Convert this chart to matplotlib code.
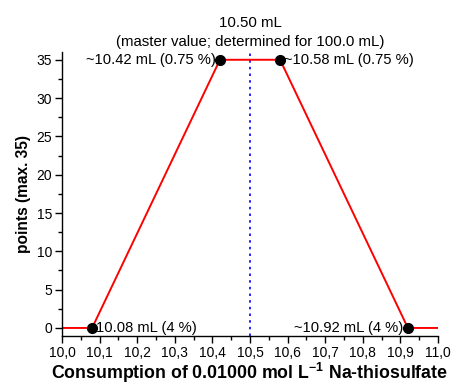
import matplotlib
matplotlib.use("Agg")
import matplotlib.pyplot as plt
from matplotlib.ticker import MultipleLocator, FuncFormatter

plt.rcParams['font.family'] = ['Liberation Sans', 'DejaVu Sans']
plt.rcParams['mathtext.fontset'] = 'custom'
plt.rcParams['mathtext.rm'] = 'Liberation Sans'
plt.rcParams['mathtext.bf'] = 'Liberation Sans:bold'

# data
line_x = [10.0, 10.08, 10.42, 10.58, 10.92, 11.0]
line_y = [0, 0, 35, 35, 0, 0]
pts_x = [10.08, 10.42, 10.58, 10.92]
pts_y = [0, 35, 35, 0]
master = 10.50
labels = ["10.08 mL (4 %)", "~10.42 mL (0.75 %)", "~10.58 mL (0.75 %)", "~10.92 mL (4 %)"]
label_ha = ["left", "right", "left", "right"]

fig = plt.figure(figsize=(4.56, 3.86), dpi=100)
ax = fig.add_axes([0.136, 0.1295, 0.8245, 0.7355])

ax.axvline(master, color='blue', linestyle=(0, (1.5, 2.5)), linewidth=1.2, zorder=1)
ax.plot(line_x, line_y, color='red', linewidth=1.4, zorder=2)
ax.plot(pts_x, pts_y, 'o', color='black', markersize=7, zorder=3)

for x, y, t, ha in zip(pts_x, pts_y, labels, label_ha):
    dx = 3 if ha == 'left' else -3
    ax.annotate(t, (x, y), xytext=(dx, 0), textcoords='offset points',
                ha=ha, va='center', fontsize=10.6)

ax.text(master, 1.01, "10.50 mL\n(master value; determined for 100.0 mL)",
        transform=ax.get_xaxis_transform(), ha='center', va='bottom',
        fontsize=10.8, linespacing=1.45)

ax.set_xlim(10.0, 11.0)
ax.set_ylim(-1.05, 36.0)
ax.xaxis.set_major_locator(MultipleLocator(0.1))
ax.xaxis.set_minor_locator(MultipleLocator(0.05))
ax.yaxis.set_major_locator(MultipleLocator(5))
ax.yaxis.set_minor_locator(MultipleLocator(2.5))
ax.xaxis.set_major_formatter(FuncFormatter(lambda v, p: f"{v:.1f}".replace('.', ',')))
ax.yaxis.set_major_formatter(FuncFormatter(lambda v, p: f"{v:.0f}"))

for s in ['top', 'right']:
    ax.spines[s].set_visible(False)
for s in ['left', 'bottom']:
    ax.spines[s].set_linewidth(1.0)
ax.tick_params(which='major', direction='out', length=5, width=1, labelsize=10, pad=2)
ax.tick_params(which='minor', direction='out', length=3, width=1)

ax.set_xlabel("Consumption of 0.01000 mol L$^{\\mathbf{-1}}$ Na-thiosulfate",
              fontsize=12.8, fontweight='bold', labelpad=1)
ax.set_ylabel("points (max. 35)", fontsize=11.2, fontweight='bold', labelpad=4)

fig.savefig("out.png", dpi=100)
